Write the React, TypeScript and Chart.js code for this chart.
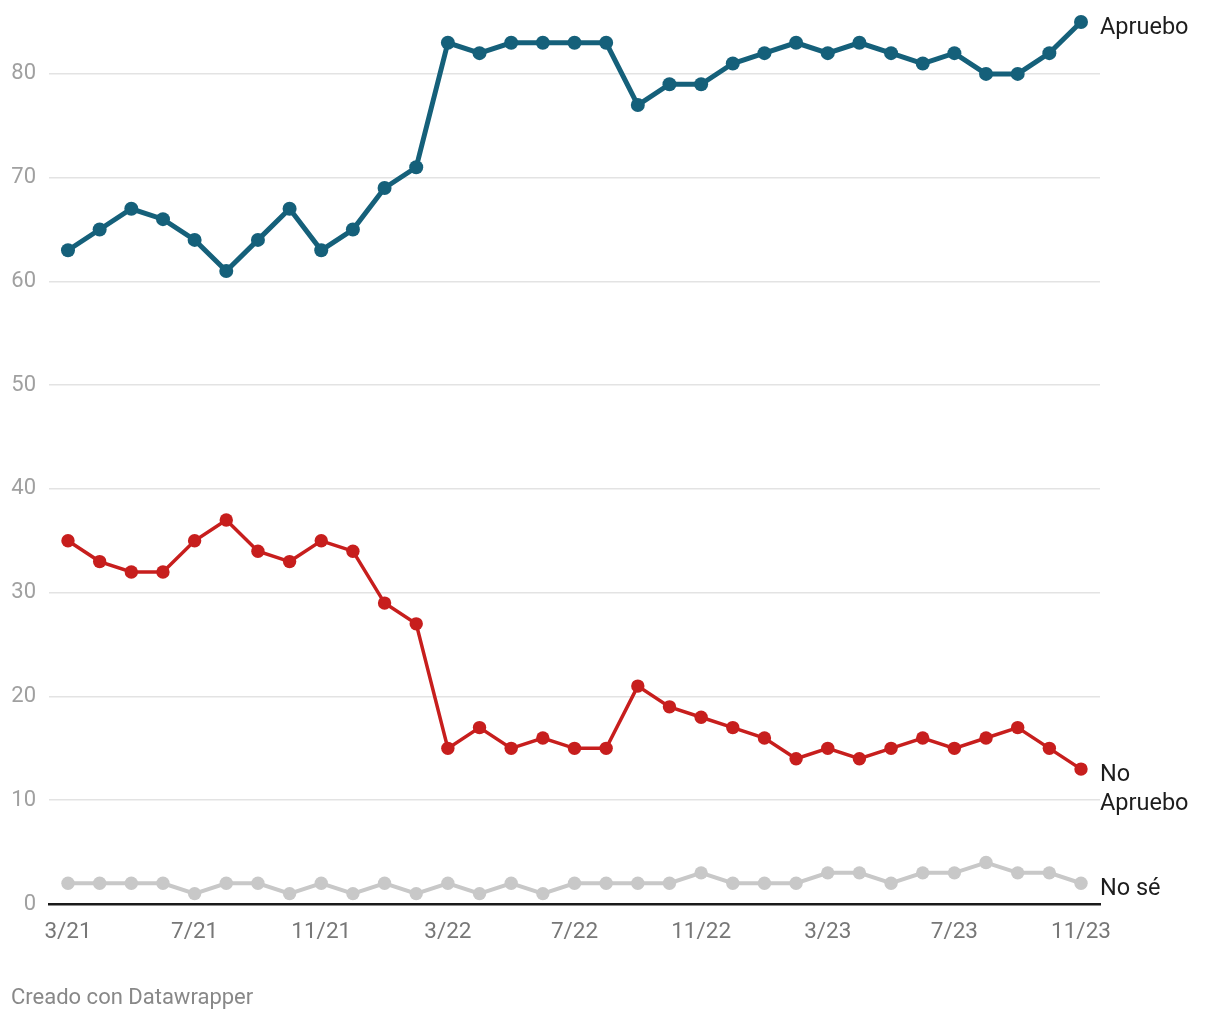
import React, { useEffect, useRef } from "react";
import { Chart, registerables } from "chart.js";

Chart.register(...registerables);

const months = [
  "3/21", "4/21", "5/21", "6/21", "7/21", "8/21", "9/21", "10/21", "11/21", "12/21", "1/22",
  "2/22", "3/22", "4/22", "5/22", "6/22", "7/22", "8/22", "9/22", "10/22", "11/22", "12/22",
  "1/23", "2/23", "3/23", "4/23", "5/23", "6/23", "7/23", "8/23", "9/23", "10/23", "11/23",
];

const apruebo = [63, 65, 67, 66, 64, 61, 64, 67, 63, 65, 69, 71, 83, 82, 83, 83, 83, 83, 77, 79, 79, 81, 82, 83, 82, 83, 82, 81, 82, 80, 80, 82, 85];
const noApruebo = [35, 33, 32, 32, 35, 37, 34, 33, 35, 34, 29, 27, 15, 17, 15, 16, 15, 15, 21, 19, 18, 17, 16, 14, 15, 14, 15, 16, 15, 16, 17, 15, 13];
const noSe = [2, 2, 2, 2, 1, 2, 2, 1, 2, 1, 2, 1, 2, 1, 2, 1, 2, 2, 2, 2, 3, 2, 2, 2, 3, 3, 2, 3, 3, 4, 3, 3, 2];

const seriesLabels = [["Apruebo"], ["No", "Apruebo"], ["No sé"]];
const xTickValues = [0, 4, 8, 12, 16, 20, 24, 28, 32];
const yTickValues = [0, 10, 20, 30, 40, 50, 60, 70, 80];

const FONT = "Roboto";

const endLabels = {
  id: "endLabels",
  afterDatasetsDraw(chart: any) {
    const ctx = chart.ctx;
    const x = chart.chartArea.right;
    ctx.save();
    ctx.font = `23.5px ${FONT}`;
    ctx.fillStyle = "#1d1d1d";
    ctx.textAlign = "left";
    ctx.textBaseline = "alphabetic";
    chart.data.datasets.forEach((ds: any, i: number) => {
      const meta = chart.getDatasetMeta(i);
      const last = meta.data[meta.data.length - 1];
      const lines = seriesLabels[i];
      lines.forEach((t: string, j: number) => {
        ctx.fillText(t, x, last.y + 12 + j * 29);
      });
    });
    ctx.restore();
  },
};

export default function App() {
  const ref = useRef<HTMLCanvasElement>(null);

  useEffect(() => {
    document.body.style.margin = "0";
    const mk = (label: string, data: number[], color: string, bw: number, r: number) => ({
      label,
      data: data.map((v, i) => ({ x: i, y: v })),
      borderColor: color,
      backgroundColor: color,
      borderWidth: bw,
      pointRadius: r,
      pointBorderWidth: 0,
      pointBackgroundColor: color,
      tension: 0,
      clip: false as any,
    });
    const chart = new Chart(ref.current!, {
      type: "line",
      data: {
        datasets: [
          mk("Apruebo", apruebo, "#15607a", 5, 7),
          mk("No Apruebo", noApruebo, "#c71e1d", 3.5, 6.7),
          mk("No sé", noSe, "#c8c8c8", 4, 6.7),
        ],
      },
      options: {
        responsive: false,
        animation: false,
        layout: { padding: { left: 0, right: 120, top: 22, bottom: 66 } },
        plugins: { legend: { display: false }, tooltip: { enabled: false } },
        scales: {
          x: {
            type: "linear",
            min: -0.6,
            max: 32.6,
            afterBuildTicks: (s: any) => {
              s.ticks = xTickValues.map((v) => ({ value: v }));
            },
            afterFit: (s: any) => {
              s.height = 50;
              s.paddingLeft = 0;
              s.paddingRight = 0;
            },
            grid: { display: false, drawTicks: false },
            border: { display: true, color: "#1a1a1a", width: 2.5 },
            ticks: {
              autoSkip: false,
              maxRotation: 0,
              padding: 15,
              color: "#777",
              font: { family: FONT, size: 22.5 },
              callback: (v: any) => months[v as number] ?? "",
            },
          },
          y: {
            min: 0,
            max: 85,
            afterBuildTicks: (s: any) => {
              s.ticks = yTickValues.map((v) => ({ value: v }));
            },
            afterFit: (s: any) => {
              s.width = 49;
              s.paddingTop = 0;
              s.paddingBottom = 0;
            },
            grid: {
              drawTicks: false,
              color: (c: any) => (c.tick && c.tick.value === 0 ? "rgba(0,0,0,0)" : "#e3e3e3"),
              lineWidth: 1.5,
            },
            border: { display: false },
            ticks: {
              padding: 13,
              color: "#a0a0a0",
              font: { family: FONT, size: 22 },
            },
          },
        },
      },
      plugins: [endLabels],
    });
    return () => chart.destroy();
  }, []);

  return (
    <div style={{ position: "absolute", left: 0, top: 0, width: 1220, height: 1020, background: "#fff" }}>
      <canvas ref={ref} width={1220} height={1020} style={{ display: "block" }} />
      <div
        style={{
          position: "absolute",
          left: 11,
          top: 983,
          fontFamily: FONT,
          fontSize: 22,
          color: "#888",
          lineHeight: "28px",
          whiteSpace: "nowrap",
        }}
      >
        Creado con Datawrapper
      </div>
    </div>
  );
}
